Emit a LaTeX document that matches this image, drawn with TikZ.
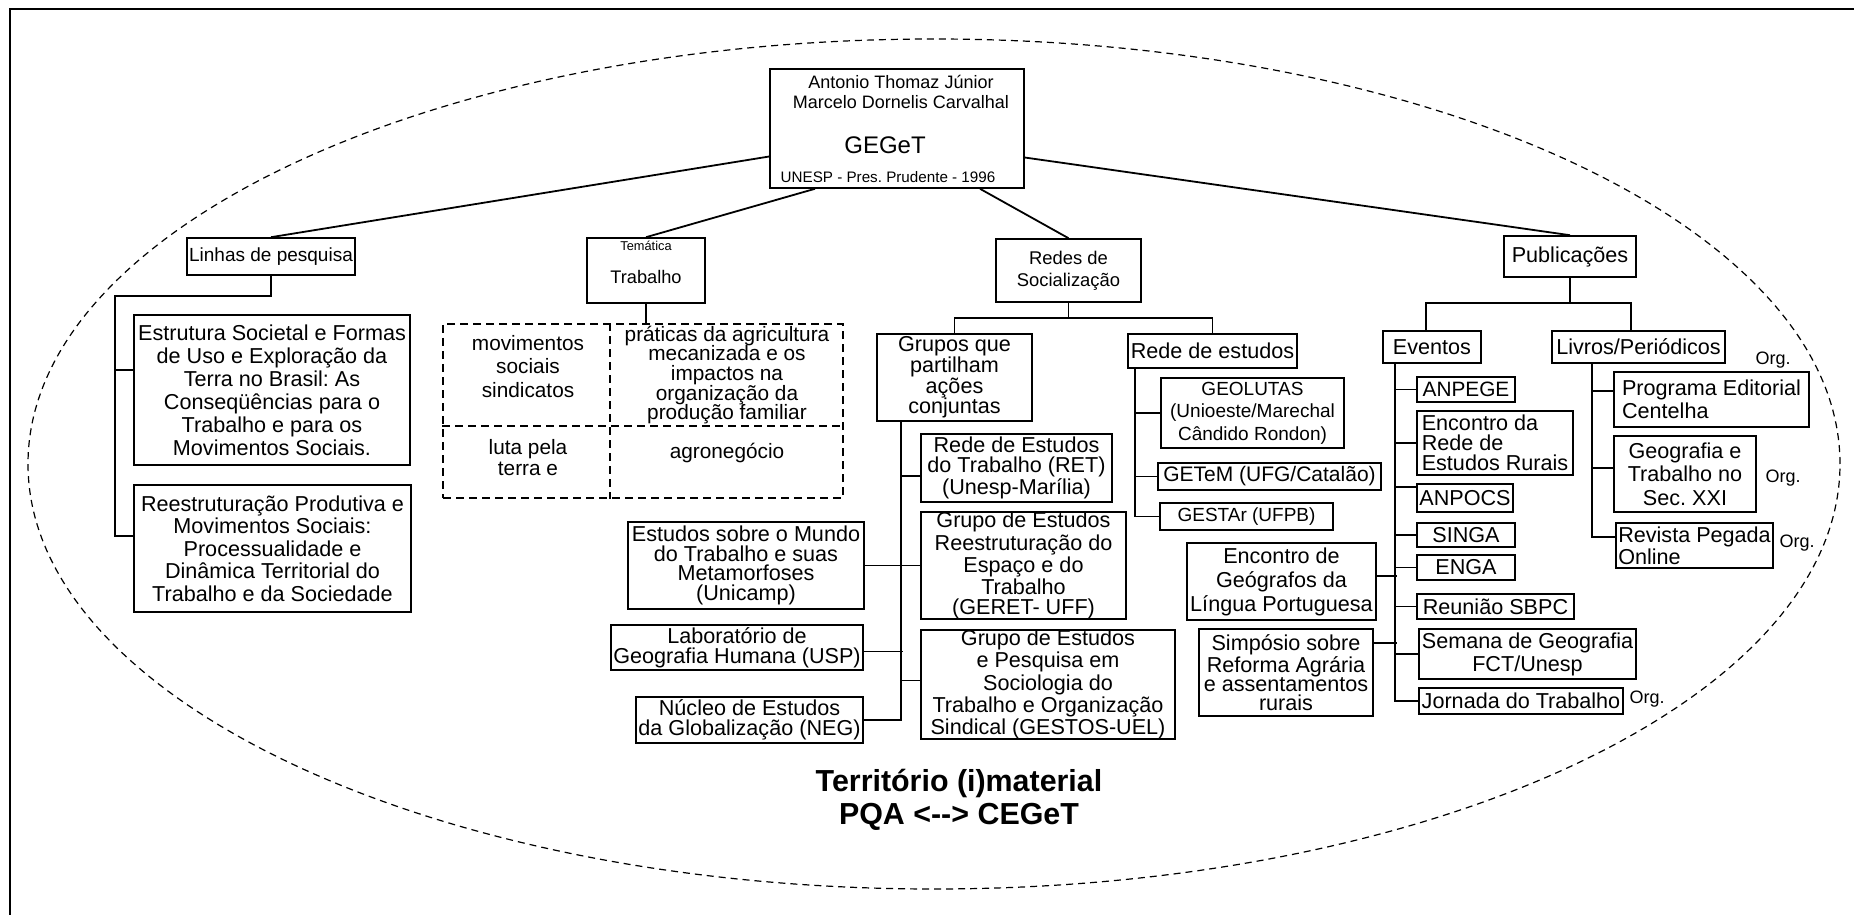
\documentclass[tikz,border=0pt]{standalone}
\usepackage{fontspec}
\setmainfont{Liberation Sans}
\usetikzlibrary{calc}
\frenchspacing

\begin{document}
\begin{tikzpicture}[
    x=0.5pt, y=-0.5pt,
    box/.style={draw, fill=white, line width=0.8pt, inner sep=0pt, align=center},
    sz/.style 2 args={minimum width=#1*0.5pt, minimum height=#2*0.5pt},
    fs/.style 2 args={font=\fontsize{#1}{#2}\selectfont},
    txt/.style={inner sep=0pt, align=center},
    link/.style={line width=0.9pt},
    grade/.style={dash pattern=on 4pt off 2.5pt, line width=0.8pt},
    org/.style={inner sep=0pt, font=\fontsize{9}{10}\selectfont},
    titulo/.style={inner sep=0pt, align=center, font=\fontsize{15.2}{16.5}\selectfont\bfseries}
]

% Moldura e territorio
\useasboundingbox (0,0) rectangle (1854,915);
\draw[line width=1pt] (10,915) -- (10,9) -- (1854,9);
\draw[dash pattern=on 3.5pt off 2.5pt, line width=0.6pt] (934,464) ellipse [x radius=453pt, y radius=212.5pt];

% Grupo central
\node[box, sz={254}{119}] (geget) at (897,128.5) {};
\node[txt, fs={9}{10}] (autores) at (901,92) {Antonio Thomaz Júnior\\Marcelo Dornelis Carvalhal};
\node[txt, fs={12}{14}] (sigla) at (885,145) {GEGeT};
\node[txt, fs={7.6}{9}] (sede) at (888,177) {UNESP - Pres. Prudente - 1996};

% Primeiro nivel
\node[box, sz={168}{37}, fs={9.5}{11}] (linhas) at (271,256.5) {Linhas de pesquisa};
\node[box, sz={118}{65}, fs={9.1}{11}, text height=13pt,
      label={[fs={6.4}{7}, inner sep=1.5pt, anchor=north]north:Temática}] (trab) at (646,270.5) {Trabalho};
\node[box, sz={145}{63}, fs={9.2}{11}] (redes) at (1068.5,270.5) {Redes de\\Socialização};
\node[box, sz={132}{41}, fs={10.8}{12}] (pub) at (1570,256.5) {Publicações};

% Linhas de pesquisa
\node[box, sz={276}{150}, fs={10.8}{11.5}] (estrutura) at (272,390) {Estrutura Societal e Formas\\de Uso e Exploração da\\Terra no Brasil: As\\Conseqüências para o\\Trabalho e para os\\Movimentos Sociais.};
\node[box, sz={277}{127}, fs={10.8}{11.25}] (reestr) at (272.5,548.5) {Reestruturação Produtiva e\\Movimentos Sociais:\\Processualidade e\\Dinâmica Territorial do\\Trabalho e da Sociedade};

% Tematica
\node[draw, grade, sz={400}{174}, inner sep=0pt] (temas) at (643,411) {};
\draw[grade] ($(temas.north west)!0.4175!(temas.north east)$) -- ($(temas.south west)!0.4175!(temas.south east)$);
\draw[grade] ($(temas.north west)!0.586!(temas.south west)$) -- ($(temas.north east)!0.586!(temas.south east)$);
\node[txt, fs={10.4}{11.75}] (movim) at (528,366.5) {movimentos\\sociais\\sindicatos};
\node[txt, fs={10.4}{9.8}] (praticas) at (727,375) {práticas da agricultura\\mecanizada e os\\impactos na\\organização da\\produção familiar};
\node[txt, fs={10.4}{10.5}] (luta) at (528,457.5) {luta pela\\terra e};
\node[txt, fs={10.4}{12}] (agro) at (727,453) {agronegócio};

% Redes de socializacao
\node[box, sz={155}{87}, fs={10.8}{10.3}] (grupos) at (954.5,377.5) {Grupos que\\partilham\\ações\\conjuntas};
\node[box, sz={191}{68}, fs={10.8}{10}] (ret) at (1016.5,468) {Rede de Estudos\\do Trabalho (RET)\\(Unesp-Marília)};
\node[box, sz={205}{103}, fs={10.8}{9.9}] (geret) at (1023.5,565.5) {Grupo de Estudos\\Reestruturação do\\Espaço e do\\Trabalho\\(GERET- UFF)};
\node[box, sz={254}{105}, fs={10.8}{9.9}] (gestos) at (1048,684.5) {Grupo de Estudos\\e Pesquisa em\\Sociologia do\\Trabalho e Organização\\Sindical (GESTOS-UEL)};
\node[box, sz={236}{87}, fs={10.8}{9.8}] (mundo) at (746,565.5) {Estudos sobre o Mundo\\do Trabalho e suas\\Metamorfoses\\(Unicamp)};
\node[box, sz={252}{45}, fs={10.8}{10}] (lab) at (737,647.5) {Laboratório de\\Geografia Humana (USP)};
\node[box, sz={227}{46}, fs={10.8}{10}] (nucleo) at (749.5,720) {Núcleo de Estudos\\da Globalização (NEG)};

\node[box, sz={169}{34}, fs={10.8}{12}] (redest) at (1212.5,351) {Rede de estudos};
\node[box, sz={183}{70}, fs={9.5}{11.25}] (geolutas) at (1252.5,413) {GEOLUTAS\\(Unioeste/Marechal\\Cândido Rondon)};
\node[box, sz={223}{27}, fs={10.5}{12}] (getem) at (1269.5,476.5) {GETeM (UFG/Catalão)};
\node[box, sz={173}{27}, fs={9.5}{11}] (gestar) at (1246.5,516.5) {GESTAr (UFPB)};

% Publicacoes
\node[box, sz={98}{32}, fs={10.8}{12}] (eventos) at (1432,347) {Eventos};
\node[box, sz={173}{32}, fs={10.8}{12}] (livros) at (1638.5,347) {Livros/Periódicos};
\node[box, sz={98}{25}, fs={10.4}{12}] (anpege) at (1466,389.5) {ANPEGE};
\node[box, sz={156}{64}, fs={10.8}{10}, align=left] (encrede) at (1495,443) {Encontro da\\Rede de\\Estudos Rurais};
\node[box, sz={96}{28}, fs={10.8}{12}] (anpocs) at (1465,498) {ANPOCS};
\node[box, sz={98}{24}, fs={10.8}{12}] (singa) at (1466,535) {SINGA};
\node[box, sz={98}{25}, fs={10.8}{12}] (enga) at (1466,567.5) {ENGA};
\node[box, sz={157}{25}, fs={10.8}{12}] (sbpc) at (1495.5,606.5) {Reunião SBPC};
\node[box, sz={217}{50}, fs={10.8}{11.5}] (semana) at (1527.5,654) {Semana de Geografia\\FCT/Unesp};
\node[box, sz={204}{26}, fs={10.8}{12}] (jornada) at (1521,701) {Jornada do Trabalho};
\node[box, sz={189}{77}, fs={10.8}{12}] (egal) at (1281.5,581.5) {Encontro de\\Geógrafos da\\Língua Portuguesa};
\node[box, sz={174}{87}, fs={10.8}{9.4}] (simposio) at (1286,672.5) {Simpósio sobre\\Reforma Agrária\\e assentamentos\\rurais};

\node[box, sz={195}{55}, fs={10.8}{11.5}, align=left] (programa) at (1711.5,399.5) {Programa Editorial\\Centelha};
\node[box, sz={142}{76}, fs={10.8}{11.75}] (geotrab) at (1685,474) {Geografia e\\Trabalho no\\Sec. XXI};
\node[box, sz={157}{45}, fs={10.8}{10}, align=left] (revista) at (1694.5,545.5) {Revista Pegada\\Online};

\node[org] (org1) at (1773,360) {Org.};
\node[org] (org2) at (1783,478) {Org.};
\node[org] (org3) at (1797,543) {Org.};
\node[org] (org4) at (1647,699) {Org.};

% Titulo
\node[titulo] (titulo) at (959,799.5) {Território (i)material\\PQA <-{}-> CEGeT};

% Ligacoes do centro
\draw[link] ([yshift=-14pt]geget.west) -- (linhas.north);
\draw[link] ([xshift=-41pt]geget.south) -- (trab.north);
\draw[link] ([xshift=41.5pt]geget.south) -- (redes.north);
\draw[link] ([yshift=-14.5pt]geget.east) -- (pub.north);

% Ligacoes das linhas
\draw[link] (linhas.south) -- ++(0,20) -| ([xshift=-9pt]estrutura.west) |- ([yshift=6.25pt]reestr.west);
\draw[link] ([yshift=10pt]estrutura.west) -- ++(-18,0);
\draw[link] (trab.south) -- (trab.south |- temas.north);

% Ligacoes das redes
\coordinate (rsplit) at ($(redes.south)+(0,15)$);
\draw[link] (redes.south) -- (rsplit);
\draw[link] (grupos.north) |- (rsplit) -| (redest.north);
\coordinate (gtrunk) at ([xshift=12.5pt]grupos.south west);
\draw[link] (gtrunk) |- (nucleo.east);
\draw[link] ([yshift=-4pt]ret.west) -- ++(-19,0);
\draw[link] (mundo.east) -- (geret.west);
\draw[link] ([yshift=-2pt]lab.east) -- ++(39,0);
\draw[link] ([yshift=2pt]gestos.west) -- ++(-19,0);
\coordinate (rtrunk) at ([xshift=4pt]redest.south west);
\draw[link] (rtrunk) |- (gestar.west);
\draw[link] (rtrunk |- geolutas.west) -- (geolutas.west);
\draw[link] (rtrunk |- getem.west) -- (getem.west);

% Ligacoes das publicacoes
\coordinate (psplit) at ($(pub.south)+(0,25)$);
\draw[link] (pub.south) -- (psplit);
\draw[link] ([xshift=-3pt]eventos.north) |- (psplit) -| ([xshift=-3.75pt]livros.north);
\coordinate (etrunk) at ([xshift=6.5pt]eventos.south west);
\draw[link] (etrunk) |- (jornada.west);
\draw[link] (etrunk |- anpege.west) -- (anpege.west);
\draw[link] (etrunk |- encrede.west) -- (encrede.west);
\draw[link] ([yshift=5.5pt]anpocs.west) -- ++(-21,0);
\draw[link] (etrunk |- singa.west) -- (singa.west);
\draw[link] (etrunk |- enga.west) -- (enga.west);
\draw[link] (etrunk |- sbpc.west) -- (sbpc.west);
\draw[link] (etrunk |- semana.west) -- (semana.west);
\draw[link] ([yshift=2.75pt]egal.east) -- ++(20,0);
\draw[link] ([yshift=14.75pt]simposio.east) -- ++(23,0);
\coordinate (ltrunk) at ([xshift=20.5pt]livros.south west);
\draw[link] (ltrunk) |- ([yshift=4.25pt]revista.west);
\draw[link] ([yshift=4.25pt]programa.west) -- ++(-21,0);
\draw[link] ([yshift=3pt]geotrab.west) -- ++(-21,0);

\end{tikzpicture}
\end{document}
